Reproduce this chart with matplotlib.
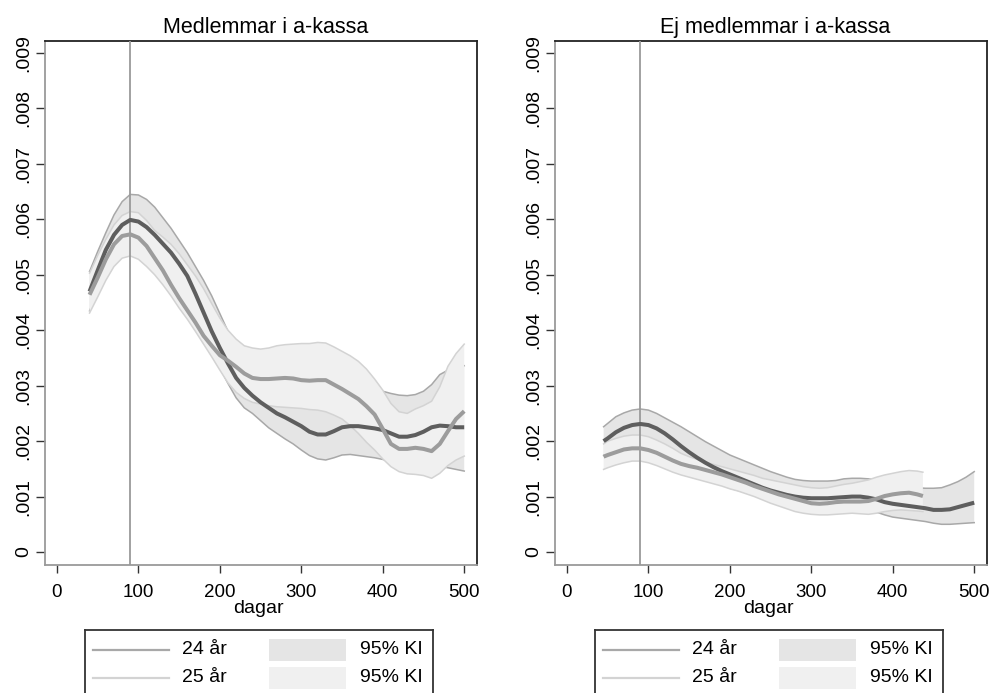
import numpy as np
import matplotlib
matplotlib.use("Agg")
import matplotlib.pyplot as plt
from matplotlib.patches import Rectangle
from matplotlib.lines import Line2D

# ---------------- data (hazard values in thousandths) ----------------
panel_titles = ["Medlemmar i a-kassa", "Ej medlemmar i a-kassa"]
x_label = "dagar"
series_labels = ["24 år", "25 år"]
ci_label = "95% KI"
ref_day = 90
x_ticks = [0, 100, 200, 300, 400, 500]
y_ticks = [0, 1, 2, 3, 4, 5, 6, 7, 8, 9]
y_tick_labels = ["0", ".001", ".002", ".003", ".004", ".005", ".006", ".007", ".008", ".009"]

# Left panel (members)
xL = [40, 50, 60, 70, 80, 90, 100, 110, 120, 130, 140, 150, 160, 170, 180, 190, 200,
      210, 220, 230, 240, 250, 260, 270, 280, 290, 300, 310, 320, 330, 340, 350, 360,
      370, 380, 390, 400, 410, 420, 430, 440, 450, 460, 470, 480, 490, 500]
L24 = [4.70, 5.08, 5.45, 5.72, 5.90, 5.99, 5.96, 5.86, 5.72, 5.56, 5.40, 5.20, 4.98, 4.66,
       4.32, 3.98, 3.68, 3.40, 3.14, 2.96, 2.82, 2.70, 2.60, 2.50, 2.43, 2.35, 2.27, 2.17,
       2.12, 2.12, 2.18, 2.25, 2.27, 2.27, 2.25, 2.23, 2.20, 2.14, 2.08, 2.08, 2.11, 2.17,
       2.25, 2.28, 2.27, 2.25, 2.25]
L24_hi = [5.06, 5.42, 5.76, 6.08, 6.32, 6.45, 6.44, 6.36, 6.22, 6.03, 5.84, 5.62, 5.40,
          5.15, 4.90, 4.62, 4.30, 3.98, 3.72, 3.45, 3.28, 3.15, 3.05, 2.95, 2.88, 2.80,
          2.72, 2.65, 2.62, 2.62, 2.68, 2.75, 2.78, 2.80, 2.82, 2.86, 2.90, 2.86, 2.83,
          2.82, 2.84, 2.90, 3.02, 3.20, 3.28, 3.32, 3.36]
L24_lo = [4.35, 4.72, 5.12, 5.36, 5.48, 5.53, 5.48, 5.38, 5.22, 5.08, 4.95, 4.78, 4.56,
          4.26, 3.94, 3.62, 3.32, 3.04, 2.78, 2.60, 2.50, 2.37, 2.24, 2.14, 2.04, 1.95,
          1.84, 1.74, 1.68, 1.66, 1.70, 1.75, 1.76, 1.74, 1.72, 1.70, 1.67, 1.64, 1.61,
          1.59, 1.58, 1.58, 1.57, 1.55, 1.52, 1.49, 1.46]
L25 = [4.64, 4.95, 5.28, 5.55, 5.70, 5.73, 5.67, 5.52, 5.30, 5.08, 4.82, 4.58, 4.36, 4.14,
       3.90, 3.72, 3.55, 3.45, 3.34, 3.22, 3.14, 3.12, 3.12, 3.13, 3.14, 3.13, 3.10, 3.09,
       3.10, 3.10, 3.02, 2.94, 2.85, 2.76, 2.63, 2.48, 2.22, 1.95, 1.86, 1.86, 1.88, 1.86,
       1.82, 1.95, 2.18, 2.40, 2.54]
L25_hi = [5.03, 5.35, 5.64, 5.90, 6.07, 6.14, 6.12, 5.98, 5.80, 5.68, 5.55, 5.38, 5.18,
          4.98, 4.75, 4.48, 4.22, 4.00, 3.84, 3.72, 3.68, 3.66, 3.68, 3.72, 3.74, 3.75,
          3.76, 3.76, 3.78, 3.77, 3.70, 3.62, 3.54, 3.44, 3.30, 3.12, 2.92, 2.68, 2.53,
          2.50, 2.58, 2.64, 2.72, 2.98, 3.35, 3.58, 3.75]
L25_lo = [4.31, 4.60, 4.90, 5.15, 5.30, 5.34, 5.28, 5.15, 5.00, 4.82, 4.62, 4.40, 4.20,
          3.98, 3.75, 3.52, 3.28, 3.05, 2.88, 2.77, 2.70, 2.67, 2.64, 2.62, 2.61, 2.60,
          2.59, 2.57, 2.56, 2.53, 2.47, 2.40, 2.28, 2.14, 1.98, 1.84, 1.68, 1.54, 1.45,
          1.41, 1.40, 1.38, 1.33, 1.42, 1.56, 1.66, 1.73]

# Right panel (non-members)
xR = [45, 50, 60, 70, 80, 90, 100, 110, 120, 130, 140, 150, 160, 170, 180, 190, 200,
      210, 220, 230, 240, 250, 260, 270, 280, 290, 300, 310, 320, 330, 340, 350, 360,
      370, 380, 390, 400, 410, 420, 430, 440, 450, 460, 470, 480, 490, 500]
R24 = [2.00, 2.05, 2.16, 2.24, 2.29, 2.31, 2.29, 2.23, 2.14, 2.03, 1.91, 1.80, 1.70, 1.61,
       1.53, 1.46, 1.40, 1.34, 1.28, 1.22, 1.16, 1.11, 1.07, 1.03, 1.00, 0.98, 0.97, 0.97,
       0.97, 0.98, 0.99, 1.00, 1.00, 0.98, 0.95, 0.90, 0.87, 0.85, 0.83, 0.81, 0.79, 0.76,
       0.76, 0.77, 0.81, 0.85, 0.89]
R24_hi = [2.26, 2.32, 2.44, 2.51, 2.56, 2.58, 2.56, 2.50, 2.42, 2.34, 2.26, 2.17, 2.08,
          1.99, 1.91, 1.83, 1.75, 1.69, 1.63, 1.57, 1.51, 1.45, 1.40, 1.35, 1.31, 1.29,
          1.28, 1.28, 1.28, 1.29, 1.32, 1.33, 1.33, 1.32, 1.30, 1.27, 1.24, 1.21, 1.18,
          1.16, 1.15, 1.15, 1.16, 1.21, 1.27, 1.35, 1.45]
R24_lo = [1.74, 1.78, 1.88, 1.96, 2.02, 2.04, 2.02, 1.96, 1.87, 1.76, 1.64, 1.54, 1.44,
          1.36, 1.28, 1.21, 1.15, 1.11, 1.07, 1.02, 0.97, 0.92, 0.87, 0.83, 0.80, 0.77,
          0.75, 0.74, 0.74, 0.74, 0.75, 0.75, 0.75, 0.74, 0.72, 0.67, 0.63, 0.61, 0.59,
          0.57, 0.55, 0.52, 0.50, 0.50, 0.51, 0.52, 0.53]
xR25 = [45, 50, 60, 70, 80, 90, 100, 110, 120, 130, 140, 150, 160, 170, 180, 190, 200,
        210, 220, 230, 240, 250, 260, 270, 280, 290, 300, 310, 320, 330, 340, 350, 360,
        370, 380, 390, 400, 410, 420, 430, 437]
R25 = [1.72, 1.75, 1.80, 1.85, 1.87, 1.87, 1.84, 1.79, 1.72, 1.65, 1.59, 1.55, 1.52, 1.48,
       1.44, 1.40, 1.35, 1.30, 1.25, 1.19, 1.14, 1.09, 1.04, 1.00, 0.96, 0.92, 0.88, 0.87,
       0.88, 0.90, 0.91, 0.91, 0.91, 0.92, 0.96, 1.01, 1.04, 1.06, 1.07, 1.04, 1.01]
R25_hi = [1.95, 2.00, 2.05, 2.09, 2.11, 2.11, 2.08, 2.02, 1.95, 1.87, 1.78, 1.72, 1.67,
          1.62, 1.58, 1.54, 1.50, 1.46, 1.42, 1.38, 1.33, 1.30, 1.27, 1.24, 1.21, 1.18,
          1.16, 1.15, 1.16, 1.19, 1.22, 1.24, 1.27, 1.30, 1.35, 1.39, 1.42, 1.45, 1.47,
          1.46, 1.44]
R25_lo = [1.49, 1.52, 1.57, 1.61, 1.64, 1.64, 1.61, 1.56, 1.50, 1.44, 1.39, 1.35, 1.31,
          1.27, 1.23, 1.19, 1.14, 1.10, 1.05, 1.00, 0.94, 0.88, 0.83, 0.78, 0.73, 0.70,
          0.68, 0.67, 0.67, 0.68, 0.69, 0.70, 0.69, 0.68, 0.70, 0.73, 0.75, 0.76, 0.75,
          0.74, 0.73]

# ---------------- styling ----------------
plt.rcParams['font.family'] = ['Liberation Sans', 'DejaVu Sans']
LINE24 = '#5e5e5e'
LINE25 = '#9c9c9c'
FILL24 = '#e5e5e5'
FILL25 = '#f0f0f0'
EDGE24 = '#a8a8a8'
EDGE25 = '#d3d3d3'
REF = '#9a9a9a'

W, H = 992, 693
fig = plt.figure(figsize=(W / 100, H / 100), dpi=100)
fig.patch.set_facecolor('white')


def px_axes(l, t, r, b):
    return fig.add_axes([l / W, 1 - b / H, (r - l) / W, (b - t) / H])


K = 1e-3
AX_H = 524.0


def draw_panel(ax, title, x24, m24, lo24, hi24, x25, m25, lo25, hi25):
    x24 = np.asarray(x24); x25 = np.asarray(x25)
    m24, lo24, hi24 = (np.asarray(a) * K for a in (m24, lo24, hi24))
    m25, lo25, hi25 = (np.asarray(a) * K for a in (m25, lo25, hi25))
    ax.fill_between(x24, lo24, hi24, facecolor=FILL24, edgecolor='none', zorder=1)
    ax.plot(x24, lo24, color=EDGE24, lw=1.1, zorder=1.1)
    ax.plot(x24, hi24, color=EDGE24, lw=1.1, zorder=1.1)
    ax.fill_between(x25, lo25, hi25, facecolor=FILL25, edgecolor='none', zorder=2)
    ax.plot(x25, lo25, color=EDGE25, lw=1.1, zorder=2.1)
    ax.plot(x25, hi25, color=EDGE25, lw=1.1, zorder=2.1)
    ax.axvline(ref_day, color=REF, lw=1.3, zorder=3)
    ax.plot(x24, m24, color=LINE24, lw=2.9, zorder=4, solid_capstyle='butt')
    ax.plot(x25, m25, color=LINE25, lw=2.9, zorder=5, solid_capstyle='butt')

    ax.set_xlim(-14.7, 515.7)
    ax.set_ylim(-0.234 * K, 9.217 * K)
    ax.set_xticks(x_ticks)
    ax.set_xticklabels([str(v) for v in x_ticks], fontsize=13.5)
    ax.set_yticks([v * K for v in y_ticks])
    ax.set_yticklabels(y_tick_labels, fontsize=14, rotation=90, va='center')
    ax.tick_params(axis='x', length=6, width=1.0, color='#333333', pad=7.5)
    ax.tick_params(axis='y', length=6.5, width=1.0, color='#333333', pad=2.5)
    for s in ('left', 'bottom'):
        ax.spines[s].set_color('#9a9a9a')
        ax.spines[s].set_linewidth(1.3)
    for s in ('top', 'right'):
        ax.spines[s].set_color('#222222')
        ax.spines[s].set_linewidth(1.3)
    ax.text(0.51, 1.0 + 8 / AX_H, title, transform=ax.transAxes, ha='center',
            va='baseline', fontsize=15.5)
    ax.text(0.495, -(613 - 565) / AX_H, x_label, transform=ax.transAxes, ha='center',
            va='baseline', fontsize=14)


def draw_legend(l, t, r):
    lg = px_axes(l, t, r, 703)
    lg.set_xlim(l, r)
    lg.set_ylim(703, t)
    lg.set_xticks([]); lg.set_yticks([])
    for s in ('top', 'left', 'right'):
        lg.spines[s].set_color('#333333')
        lg.spines[s].set_linewidth(1.3)
    lg.spines['bottom'].set_visible(False)
    rows = [(650, EDGE24, FILL24, series_labels[0]), (678, EDGE25, FILL25, series_labels[1])]
    for y, lc, fc, lab in rows:
        lg.add_line(Line2D([l + 8, l + 84], [y, y], color=lc, lw=1.6))
        lg.text(l + 97, y, lab, ha='left', va='center', fontsize=14)
        lg.add_patch(Rectangle((l + 184, y - 11), 77, 22, facecolor=fc, edgecolor='none'))
        lg.text(l + 338, y, ci_label, ha='right', va='center', fontsize=14)


axL = px_axes(45, 41, 477, 565)
draw_panel(axL, panel_titles[0], xL, L24, L24_lo, L24_hi, xL, L25, L25_lo, L25_hi)
axR = px_axes(555, 41, 987, 565)
draw_panel(axR, panel_titles[1], xR, R24, R24_lo, R24_hi, xR25, R25, R25_lo, R25_hi)

draw_legend(85, 630, 433)
draw_legend(595, 630, 943)

fig.savefig('out.png', dpi=100, facecolor='white')
